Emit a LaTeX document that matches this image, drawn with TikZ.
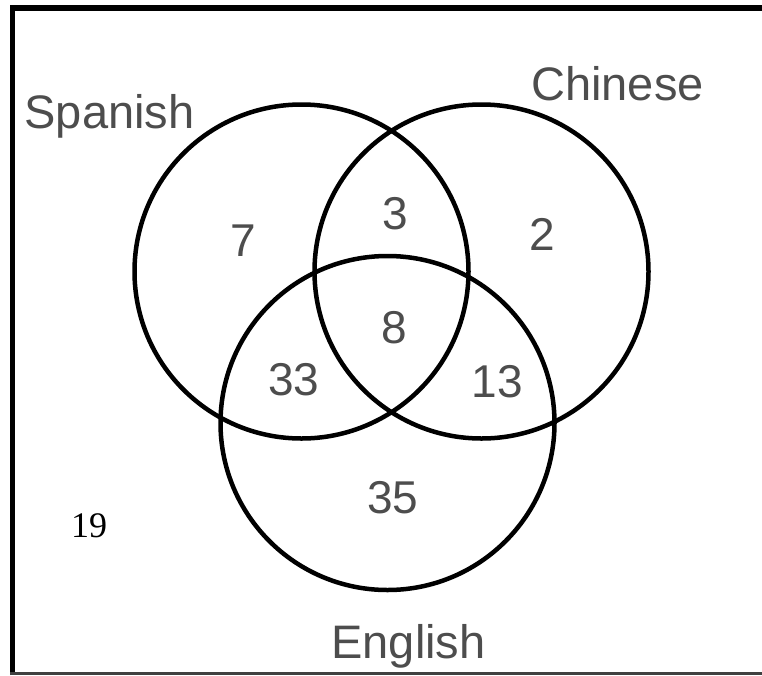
\documentclass[tikz,border=0pt]{standalone}
\usepackage{fontspec}
\setmainfont{Liberation Sans}
\newfontfamily\numserif{Liberation Serif}
\definecolor{txtgray}{HTML}{4D4D4D}
\begin{document}
\begin{tikzpicture}[x=1pt,y=-1pt,
  setcircle/.style={circle, draw=black, line width=4.5pt, minimum size=334pt, inner sep=0pt},
  lbl/.style={anchor=base, inner sep=0pt, text=txtgray, font=\fontsize{47}{50}\selectfont},
  numlbl/.style={anchor=base, inner sep=0pt, text=txtgray, font=\fontsize{46}{50}\selectfont},
  outside/.style={anchor=base, inner sep=0pt, text=black, font=\numserif\fontsize{36}{40}\selectfont}]
\useasboundingbox (0,0) rectangle (762,675);
% frame
\draw[line width=5.5pt, black] (12.5,675) -- (12.5,8) -- (762,8);
\draw[line width=3pt, black!75] (10,673.5) -- (762,673.5);
% circles
\node[setcircle] (spanish) at (301.5,271.5) {};
\node[setcircle] (chinese) at (481.5,271.5) {};
\node[setcircle] (english) at (387.5,423) {};
% set labels
\node[lbl] (lspanish) at (109.5,128) {Spanish};
\node[lbl] (lchinese) at (617.5,100) {Chinese};
\node[lbl] (lenglish) at (408.5,658) {English};
% region counts
\node[numlbl] (n7) at (243,256) {7};
\node[numlbl] (n3) at (395,229) {3};
\node[numlbl] (n2) at (542,250) {2};
\node[numlbl] (n8) at (394,343) {8};
\node[numlbl] (n33) at (294,395) {33};
\node[numlbl] (n13) at (497,397) {13};
\node[numlbl] (n35) at (393,513) {35};
\node[outside] (n19) at (89,537) {19};
\end{tikzpicture}
\end{document}
